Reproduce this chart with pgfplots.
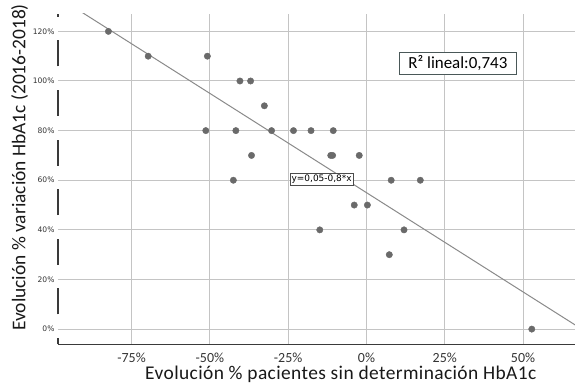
\documentclass[border=0pt]{standalone}
\usepackage{pgfplots}
\pgfplotsset{compat=1.18}
\usepackage{fontspec}
\setmainfont{Carlito}
\newfontfamily\tickfont{DejaVu Sans}
\newfontfamily\xlabfont[LetterSpace=2]{Carlito}
\definecolor{gridc}{HTML}{C4C4C4}
\definecolor{dotc}{HTML}{6A6A6A}
\definecolor{linec}{HTML}{8A8A8A}
\definecolor{axisc}{HTML}{3A3A3A}
\definecolor{boxc}{HTML}{4A5858}
\begin{document}
\begin{tikzpicture}
\begin{axis}[
  scale only axis, width=517bp, height=330bp,
  xmin=-98.5, xmax=66.6, ymin=-6, ymax=127,
  axis x line=bottom, axis y line=left,
  axis line style={axisc, line width=1bp, -},
  y axis line style={draw=none},
  xtick={-75,-50,-25,0,25,50},
  xticklabels={-75\%,-50\%,-25\%,0\%,25\%,50\%},
  ytick={0,20,40,60,80,100,120},
  yticklabels={0\%,20\%,40\%,60\%,80\%,100\%,120\%},
  major tick length=0pt,
  grid=major, major grid style={gridc, line width=1bp},
  xticklabel style={font=\fontsize{14}{14}\selectfont, text=black!80, anchor=base, inner sep=0pt, yshift=-18bp},
  yticklabel style={font=\tickfont\fontsize{7.6}{8}\selectfont, text=black!80, anchor=east},
  xlabel={Evolución \% pacientes sin determinación HbA1c},
  ylabel={Evolución \% variación HbA1c (2016-2018)},
  xlabel style={font=\xlabfont\fontsize{19.5}{20}\selectfont, text=black!90, at={(axis description cs:0.547,0)}, anchor=base, inner sep=0pt, yshift=-35bp},
  ylabel style={font=\fontsize{19.5}{20}\selectfont, text=black!90, at={(axis description cs:-0.074,0.535)}, anchor=center},
  clip=true,
]
\addplot[linec, line width=1bp] coordinates {(-100,135) (70,-1)};
\addplot[only marks, mark=*, mark size=3.2bp, mark options={draw=dotc, fill=dotc}] coordinates {
(-82.4,120) (-69.7,110) (-50.8,110) (-40.4,100) (-37.0,100) (-32.6,90)
(-51.3,80) (-41.7,80) (-30.3,80) (-23.3,80) (-17.7,80) (-10.6,80)
(-36.7,70) (-11.4,70) (-10.8,70) (-2.3,70)
(-42.5,60) (7.9,60) (17.2,60)
(-3.9,50) (0.3,50)
(-14.9,40) (12.0,40)
(7.3,30)
(52.8,0)
};
\node[draw=black!70, fill=white, line width=0.7bp, font=\tickfont\fontsize{9}{9}\selectfont, inner xsep=1.5bp, inner ysep=1.8bp] at (axis cs:-14.3,60.5) {y=0,05-0,8*x};
\node[draw=boxc, fill=white, line width=0.9bp, font=\fontsize{17}{17}\selectfont, inner xsep=9bp, inner ysep=3bp] at (axis cs:29.2,107.1) {R² lineal:0,743};
\end{axis}
\draw[axisc, line width=1.2bp, dash pattern=on 26bp off 23.6bp, dash phase=20bp] (current axis.south west) -- (current axis.north west);
\pgfresetboundingbox
\path ([xshift=-58bp,yshift=-40bp]current axis.south west) rectangle ([yshift=14bp]current axis.north east);
\end{tikzpicture}
\end{document}
